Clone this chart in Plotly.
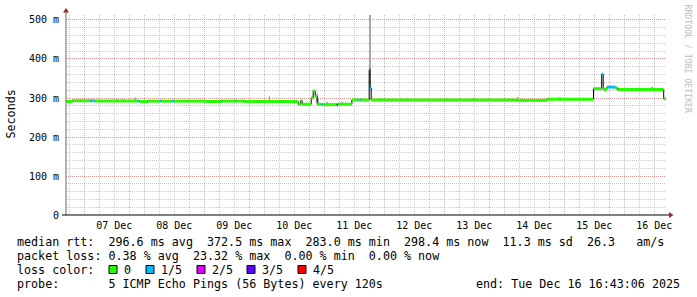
import plotly.graph_objects as go

START = "2025-12-06 16:43:06"
END = "2025-12-16 16:43:06"

# median rtt segments (start time, value in ms, loss class index)
seg_start = [
    "2025-12-06 16:43:06", "2025-12-06 19:12", "2025-12-07 02:24", "2025-12-07 03:12",
    "2025-12-07 04:00", "2025-12-07 04:24", "2025-12-07 21:36", "2025-12-07 22:00",
    "2025-12-08 01:12", "2025-12-08 01:36", "2025-12-08 06:24", "2025-12-08 06:48",
    "2025-12-08 11:12", "2025-12-08 12:00", "2025-12-09 00:24", "2025-12-09 06:48",
    "2025-12-09 07:12", "2025-12-09 12:24", "2025-12-09 12:48", "2025-12-09 15:36",
    "2025-12-09 16:00", "2025-12-10 13:36", "2025-12-10 14:36", "2025-12-10 15:12",
    "2025-12-10 18:48", "2025-12-10 19:36", "2025-12-10 20:24", "2025-12-10 21:12",
    "2025-12-10 23:00", "2025-12-10 23:24", "2025-12-11 05:00", "2025-12-11 05:24",
    "2025-12-11 11:04", "2025-12-11 13:00", "2025-12-11 13:24", "2025-12-11 14:24",
    "2025-12-11 14:48", "2025-12-11 18:00", "2025-12-11 18:24", "2025-12-11 18:48",
    "2025-12-14 04:24", "2025-12-14 17:05", "2025-12-15 11:43", "2025-12-15 15:00",
    "2025-12-15 15:36", "2025-12-15 17:05", "2025-12-15 20:24", "2025-12-15 21:12",
    "2025-12-15 21:36", "2025-12-16 15:48",
]
seg_rtt = [
    291, 293, 293, 293,
    292, 292, 292, 291,
    291, 292, 292, 292,
    292, 292, 291, 292,
    292, 292, 292, 292,
    291, 284, 293, 284,
    300, 318, 304, 284,
    284, 283, 283, 284,
    295, 295, 295, 295,
    295, 372.5, 326, 295,
    294, 297, 324, 361,
    322, 328, 326, 323,
    322, 298.4,
]
seg_loss = [
    0, 0, 1, 0,
    1, 0, 1, 0,
    1, 0, 1, 0,
    1, 0, 0, 1,
    0, 1, 0, 1,
    0, 0, 0, 0,
    0, 0, 0, 0,
    1, 0, 3, 0,
    0, 1, 0, 1,
    0, 2, 1, 0,
    0, 0, 0, 1,
    0, 1, 0, 2,
    0, 0,
]

loss_labels = ["0", "1/5", "2/5", "3/5", "4/5"]
loss_colors = ["#26ff00", "#00b8ff", "#dd00ff", "#5e00ff", "#ff0000"]

# smoke (ping spread) visible above the median line
smoke_time = [
    "2025-12-07 13:05", "2025-12-07 15:36", "2025-12-07 20:24", "2025-12-10 02:07",
    "2025-12-10 21:00", "2025-12-10 21:36", "2025-12-11 01:05", "2025-12-11 07:12",
    "2025-12-11 18:12", "2025-12-11 22:24", "2025-12-12 09:36", "2025-12-13 01:36",
    "2025-12-13 11:36", "2025-12-14 05:36", "2025-12-14 22:24", "2025-12-16 11:05",
]
smoke_low = [292, 292, 292, 292, 290, 284, 284, 284, 372, 295, 295, 295, 295, 294, 297, 322]
smoke_high = [298, 298, 301, 305, 310, 300, 290, 290, 513, 300, 300, 300, 300, 302, 302, 328]

y_tick_vals = [0, 100, 200, 300, 400, 500]
y_tick_text = ["0", "100 m", "200 m", "300 m", "400 m", "500 m"]

stats_rtt = "median rtt:  296.6 ms avg  372.5 ms max  283.0 ms min  298.4 ms now  11.3 ms sd  26.3   am/s"
stats_loss = "packet loss: 0.38 % avg  23.32 % max  0.00 % min  0.00 % now"
probe_text = "probe:       5 ICMP Echo Pings (56 Bytes) every 120s"
end_text = "end: Tue Dec 16 16:43:06 2025"

# ---------------------------------------------------------------
MONO = "DejaVu Sans Mono"
MGRID = "rgba(235,120,120,0.65)"
GRID = "rgba(170,170,170,0.65)"

L, R, T, B = 66, 31, 15, 82
W, H = 697, 297
PW, PH = W - L - R, H - T - B


def px(x):
    return (x - L) / PW


def py(y):
    return (T + PH - y) / PH


def nb(s):
    return s.replace(" ", "\u00a0")


fig = go.Figure()

fig.add_trace(go.Bar(
    x=smoke_time, y=[h - l for h, l in zip(smoke_high, smoke_low)], base=smoke_low,
    width=24 * 60 * 1000, marker=dict(color="#a8a8a8", line=dict(width=0)),
    hoverinfo="skip",
))

fig.add_trace(go.Scatter(
    x=seg_start + [END], y=seg_rtt + [seg_rtt[-1]], mode="lines",
    line=dict(color="#000000", width=1, shape="hv"), hoverinfo="skip",
))

seg_end = seg_start[1:] + [END]
for c, (lab, col) in enumerate(zip(loss_labels, loss_colors)):
    xs, ys = [], []
    for s, e, v, l in zip(seg_start, seg_end, seg_rtt, seg_loss):
        if l == c:
            xs += [s, e, None]
            ys += [v, v, None]
    if xs:
        fig.add_trace(go.Scatter(x=xs, y=ys, mode="lines", name=lab,
                                 line=dict(color=col, width=3), hoverinfo="skip"))

shapes = [
    dict(type="line", xref="paper", yref="paper", x0=0, x1=0, y0=0, y1=py(11),
         line=dict(color="#666666", width=1)),
    dict(type="line", xref="paper", yref="paper", x0=px(62), x1=px(670), y0=0, y1=0,
         line=dict(color="#000000", width=1)),
    dict(type="path", xref="paper", yref="paper",
         path=f"M {px(66)},{py(8)} L {px(63)},{py(12.5)} L {px(69)},{py(12.5)} Z",
         fillcolor="#a02828", line=dict(width=0)),
    dict(type="path", xref="paper", yref="paper",
         path=f"M {px(673.5)},{py(215)} L {px(669)},{py(212)} L {px(669)},{py(218)} Z",
         fillcolor="#a02828", line=dict(width=0)),
]

swatch_x = [109, 146, 197, 247, 298]
for sx, col in zip(swatch_x, loss_colors):
    shapes.append(dict(type="rect", xref="paper", yref="paper",
                       x0=px(sx), x1=px(sx + 8), y0=py(273.5), y1=py(265.5),
                       fillcolor=col, line=dict(color="#000000", width=1)))

FS = 11.7
ann = []


def text(x, y, s, anchor="left", size=FS, color="#000000", angle=0):
    ann.append(dict(xref="paper", yref="paper", x=px(x), y=py(y), text=nb(s),
                    showarrow=False, xanchor=anchor, yanchor="middle", borderpad=0,
                    textangle=angle, font=dict(family=MONO, size=size, color=color)))


text(16, 241.5, stats_rtt)
text(16, 255.5, stats_loss)
text(16, 269.5, "loss color:")
for sx, lab in zip(swatch_x, loss_labels):
    text(sx + 14, 269.5, lab)
text(16, 283.5, probe_text)
text(681, 283.5, end_text, anchor="right")
text(687.5, 59, "RRDTOOL / TOBI OETIKER", anchor="center", size=8.2, color="#bdbdbd", angle=90)
ann.append(dict(xref="paper", yref="paper", x=px(10.5), y=py(114), text="Seconds",
                showarrow=False, xanchor="center", yanchor="middle", textangle=-90,
                font=dict(family=MONO, size=FS, color="#000000")))

fig.update_layout(
    width=W, height=H, margin=dict(l=L, r=R, t=T, b=B, pad=0),
    paper_bgcolor="#ffffff", plot_bgcolor="#ffffff", showlegend=False,
    shapes=shapes, annotations=ann, barmode="overlay",
    xaxis=dict(type="date", range=[START, END], tick0="2025-12-07", dtick=86400000,
               tickformat="%d %b", ticklabelmode="period",
               ticks="outside", ticklen=1, tickcolor="rgba(0,0,0,0)",
               showgrid=True, gridcolor=MGRID, gridwidth=1, griddash="1px,1px",
               minor=dict(dtick=21600000, tick0="2025-12-07", showgrid=True,
                          gridcolor=GRID, gridwidth=1, griddash="1px,1px"),
               showline=False, zeroline=False,
               tickfont=dict(family=MONO, size=10, color="#000000")),
    yaxis=dict(range=[0, 512.8], tickmode="array", tickvals=y_tick_vals, ticktext=y_tick_text,
               ticks="outside", ticklen=4, tickcolor="rgba(0,0,0,0)",
               showgrid=True, gridcolor=MGRID, gridwidth=1, griddash="1px,1px",
               minor=dict(dtick=20, showgrid=True, gridcolor=GRID, gridwidth=1,
                          griddash="1px,1px"),
               showline=False, zeroline=False,
               tickfont=dict(family=MONO, size=10, color="#000000")),
)

fig.write_html("out.html")
